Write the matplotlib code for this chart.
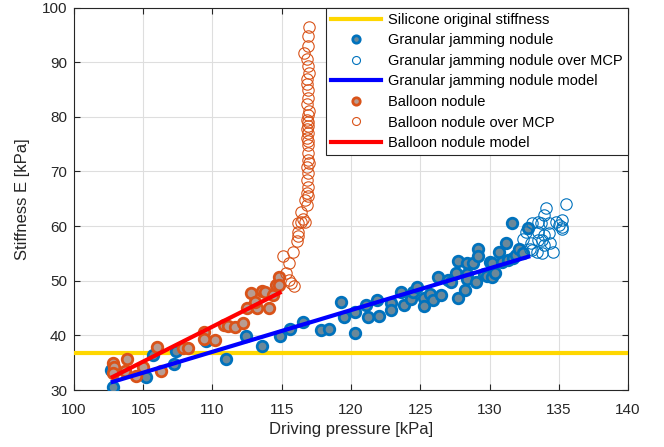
import matplotlib
matplotlib.use("Agg")
import matplotlib.pyplot as plt
import numpy as np

plt.rcParams['font.family'] = ['Liberation Sans', 'DejaVu Sans']

silicone_stiffness = 36.7

gj_x = [102.8, 102.7, 105.2, 105.7, 107.2, 107.4, 109.5, 111.0, 112.4, 113.6, 114.9, 115.6,
        116.5, 117.8, 118.4, 119.3, 119.5, 120.3, 120.3, 121.1, 121.2, 121.9, 122.0, 122.9,
        122.9, 123.6, 123.8, 124.3, 124.5, 124.8, 125.3, 125.3, 125.7, 125.9, 126.5, 126.3,
        127.0, 127.2, 127.6, 127.7, 128.2, 127.7, 128.4, 128.8, 129.2, 129.2, 128.4, 128.4,
        129.0, 129.6, 129.8, 130.2, 130.0, 130.2, 130.7, 130.4, 130.9, 131.3, 131.7, 131.9,
        132.1, 132.4, 131.6, 132.8, 131.2]
gj_y = [30.5, 33.7, 32.4, 36.4, 34.8, 37.2, 39.0, 35.6, 39.9, 38.1, 39.9, 41.1,
        42.5, 41.0, 41.1, 46.1, 43.3, 44.2, 40.5, 45.6, 43.4, 46.4, 43.6, 45.9,
        44.7, 48.0, 45.6, 46.6, 48.0, 48.8, 46.8, 45.3, 47.6, 46.5, 47.4, 50.7,
        50.1, 49.8, 51.4, 46.8, 48.3, 53.7, 53.2, 53.2, 55.8, 54.5, 51.2, 50.3,
        49.8, 51.2, 50.9, 50.7, 53.5, 53.2, 55.2, 51.4, 53.5, 53.8, 54.1, 54.7,
        55.9, 55.0, 60.5, 59.6, 56.9]

gj_mcp_x = [132.4, 133.1, 133.5, 133.7, 133.9, 134.1, 134.3, 134.8, 135.2, 135.2, 135.2, 135.0,
            135.5, 133.5, 133.9, 134.3, 132.6, 133.0, 133.5, 133.8, 133.9, 133.1, 132.9, 133.4,
            133.8, 134.6, 134.4]
gj_mcp_y = [57.6, 60.5, 60.8, 60.5, 62.0, 63.3, 60.5, 60.8, 61.1, 59.9, 59.4, 60.2,
            64.1, 59.0, 58.4, 58.7, 59.0, 56.9, 57.5, 57.5, 56.6, 55.6, 55.9, 55.3,
            55.0, 55.3, 56.9]

gj_model_x = [102.8, 132.8]
gj_model_y = [31.5, 54.4]

bn_x = [102.8, 102.9, 102.8, 103.8, 103.7, 104.5, 105.0, 106.0, 106.3, 107.9, 108.2, 109.4,
        109.4, 110.2, 110.8, 111.1, 111.6, 112.2, 112.5, 112.8, 113.2, 113.1, 113.6, 113.8,
        114.1, 114.4, 114.6, 114.8, 114.8]
bn_y = [34.9, 34.2, 33.1, 35.6, 33.4, 32.6, 34.3, 37.9, 33.5, 37.6, 37.6, 40.7,
        39.3, 39.2, 41.9, 41.7, 41.6, 42.3, 45.1, 47.7, 45.0, 46.2, 48.2, 48.0,
        45.0, 47.4, 49.2, 50.6, 49.2]

bn_mcp_x = [115.9, 115.7, 115.5, 115.3, 115.1, 115.5, 115.8, 116.1, 116.2, 116.2, 116.2, 116.4,
            116.5, 116.7, 116.4, 116.7, 116.8, 116.9, 116.8, 116.9, 116.8, 116.9, 116.9, 116.9,
            116.8, 116.9, 116.9, 116.8, 116.9, 116.8, 116.9, 116.9, 116.8, 117.0, 116.8, 116.6,
            116.9, 116.9, 117.0, 116.9, 116.8, 117.0, 116.9, 116.8, 116.9, 117.0, 116.8, 116.9]
bn_mcp_y = [49.0, 49.5, 50.1, 51.4, 54.5, 53.3, 55.3, 57.2, 58.1, 59.0, 60.5, 60.8,
            61.3, 60.8, 62.6, 64.8, 66.0, 67.2, 68.5, 69.7, 70.9, 72.1, 73.3, 74.9,
            76.1, 77.0, 78.3, 79.5, 80.4, 82.3, 83.5, 85.0, 87.0, 88.1, 90.5, 91.7,
            92.9, 94.8, 96.4, 65.5, 63.8, 71.5, 75.6, 77.8, 79.0, 81.0, 86.0, 89.3]

bn_model_x = [102.8, 114.85]
bn_model_y = [32.4, 47.8]

blue_edge = '#0072BD'
orange_edge = '#D95319'
blue_face = '#6B8899'
orange_face = '#B89C92'

fig = plt.figure(figsize=(6.64, 4.47), dpi=100)
ax = fig.add_axes([0.1114, 0.1275, 0.8344, 0.8555])

ax.axhline(silicone_stiffness, color='#FFD700', lw=3, label='Silicone original stiffness', zorder=3)
ax.plot(gj_x, gj_y, 'o', ms=7.6, mfc=blue_face, mec=blue_edge, mew=2,
        label='Granular jamming nodule', zorder=4)
ax.plot(gj_mcp_x, gj_mcp_y, 'o', ms=8.2, mfc='none', mec=blue_edge, mew=0.8,
        label='Granular jamming nodule over MCP', zorder=4)
ax.plot(gj_model_x, gj_model_y, '-', color='#0000FF', lw=3,
        label='Granular jamming nodule model', zorder=5)
ax.plot(bn_x, bn_y, 'o', ms=7.6, mfc=orange_face, mec=orange_edge, mew=2,
        label='Balloon nodule', zorder=4)
ax.plot(bn_mcp_x, bn_mcp_y, 'o', ms=8.2, mfc='none', mec=orange_edge, mew=0.8,
        label='Balloon nodule over MCP', zorder=4)
ax.plot(bn_model_x, bn_model_y, '-', color='#FF0000', lw=3,
        label='Balloon nodule model', zorder=5)

ax.set_xlim(100, 140)
ax.set_ylim(30, 100)
ax.set_xticks(np.arange(100, 141, 5))
ax.set_yticks(np.arange(30, 101, 10))
ax.grid(True, color='#DEDEDE', lw=0.8)
ax.set_axisbelow(True)
for s in ax.spines.values():
    s.set_color('#262626')
    s.set_linewidth(0.8)
ax.tick_params(direction='in', top=True, right=True, labelsize=11, colors='#262626', length=4)
ax.tick_params(axis='x', pad=9)
ax.tick_params(axis='y', pad=5)
ax.set_xlabel('Driving pressure [kPa]', fontsize=12, color='#262626', labelpad=4)
ax.set_ylabel('Stiffness E [kPa]', fontsize=12, color='#262626', labelpad=8)

leg = ax.legend(loc='upper right', fontsize=10.5, frameon=True, fancybox=False, framealpha=1,
                edgecolor='#262626', handlelength=3.4, borderaxespad=0.0, borderpad=0.35,
                labelspacing=0.45, handletextpad=0.5, markerscale=0.7)
leg.get_frame().set_linewidth(0.8)

fig.savefig('out.png', dpi=100)
